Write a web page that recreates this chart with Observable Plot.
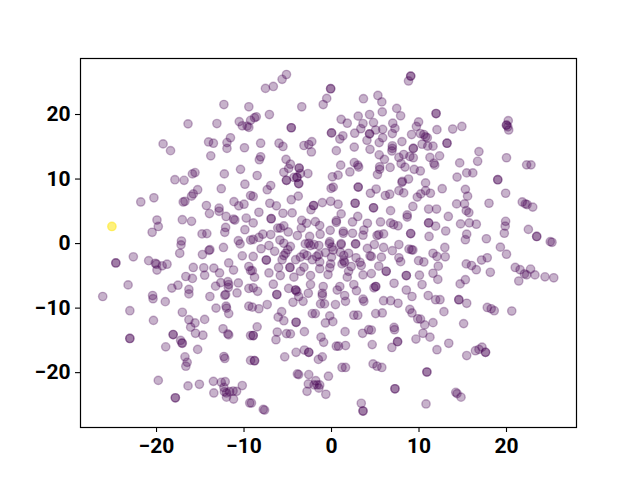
<!DOCTYPE html>
<html><head><meta charset="utf-8">
<script src="https://cdn.jsdelivr.net/npm/d3@7"></script>
<script src="https://cdn.jsdelivr.net/npm/@observablehq/plot@0.6"></script>
<style>html,body{margin:0;padding:0;background:#fff}svg{display:block}</style>
</head><body><div id="chart"></div>
<script>
const xTicks = [-20,-10,0,10,20];
const yTicks = [-20,-10,0,10,20];
const highlighted = [[-25.1,2.65]];
const points = [
[-12.3,21.55],[-9.45,21.2],[-16.4,18.55],[-13.1,18.6],[-10.55,18.9],[-10.2,18.25],[-9.65,18.2],[-9.45,18],[-9.25,19.1],[-11.55,16.4],[-11.95,15.65],[-11.95,14.75],[-9.95,14.85],[-14.05,15.75],[-13.5,15.55],[-13.8,13.6],[-19.25,15.45],[-18.4,14.4],[-15.6,11],[-15.9,10.8],[-12.25,10.8],[-10.4,11.5],[-17.9,9.9],[-16.85,9.8],[-9.9,9.2],
[-12.6,8.5],[-15.3,8.35],[-15.8,7.7],[-16,7.35],[-16.75,6.55],[-16.95,6.45],[-20.3,7.1],[-21.8,6.45],[-14.3,5.9],[-12.85,5.5],[-12.85,5],[-13.95,4.65],[-11.15,6.5],[-10.6,5.85],[-10,6.1],[-12.05,4.2],[-11.2,3.8],[-11.05,3.65],[-9.75,3.95],[-19.95,3.65],[-19.8,2.65],[-20.5,1.75],[-17.05,3.7],[-16,3.45],[-12.1,2.5],[-12.2,1.75],[-9.9,2.15],[-14.8,1.5],[-14.25,1.55],[-17.15,0.4],[-17.2,-0.2],[-17.35,-1.5],[-10.65,0.45],[-10.45,-0.05],[-9.25,0.55],[-13.9,-0.95],[-14,-1.05],[-14.75,-1.7],[-12.35,-0.6],[-10.2,-1.9],[-22.65,-2.05],[-20.9,-2.65],[-20.15,-3.05],[-20,-3.2],[-19.35,-3.45],[-18.8,-3.2],[-19.95,-4.1],[-24.65,-3],[-24.65,-3],[-15.8,-3.7],[-14.6,-3.75],[-13.45,-3.8],[-12.8,-4.55],[-11.75,-3],[-11.2,-4.1],[-14.5,-4.9],[-16.65,-5.1],[-15.9,-5.4],[-23.25,-6.4],[-17.55,-6.45],[-18.25,-6.9],[-16.3,-7.1],[-16.3,-7.8],[-20.45,-8.05],[-20.4,-8.55],[-19,-9],[-26.15,-8.2],[-13.9,-8.2],[-13.25,-6.6],[-12.65,-6.05],[-11.85,-5.9],[-11.75,-6.35],[-11.8,-6.8],[-10.65,-6.1],[-12.1,-7.9],[-12.2,-8],[-10.8,-7.65],[-12.05,-9.7],[-9.45,-3.55],[-9.25,-4.2],[-9.45,-6.95],[-9.25,7.45],
[-23.05,-10.4],[-20.35,-11.9],[-17.05,-10.65],[-16.3,-11.8],[-15.6,-12.3],[-14.5,-11.75],[-16.1,-12.95],[-15.55,-13.9],[-14.7,-14.2],[-18.1,-14.1],[-18.1,-14.1],[-23.05,-14.7],[-23.05,-14.7],[-17.25,-15],[-17.1,-15.4],[-17.05,-15.45],[-18.95,-16],[-15.3,-16.4],[-13.2,-10],[-12,-10],[-11.75,-10.85],[-9.45,-9.7],[-12.4,-13.2],[-11.85,-14],[-11.75,-14.15],[-9.25,-14.25],[-16.75,-17.55],[-16.5,-18.4],[-16.65,-19],[-12.3,-17.5],[-12.2,-17.8],[-9.25,-18.1],[-19.8,-21.2],[-16.4,-22.05],[-15.1,-21.8],[-13.5,-21.35],[-12.6,-21.5],[-12.15,-21.4],[-12.3,-22.3],[-10.2,-22],[-13.45,-23.15],[-12.25,-22.95],[-12,-23.15],[-11.65,-22.95],[-11.25,-22.85],[-10.85,-22.9],[-12,-23.8],[-11.2,-24.1],[-17.85,-23.9],[-17.85,-23.9],[-9.35,-24.7],
[-5.15,26.2],[-5.65,25.45],[-6.65,24.35],[-7.55,24.05],[-0.1,24],[-0.1,24],[-0.55,22.5],[-0.95,21.55],[-3.4,21.2],[3.65,22.45],[5.3,22.95],[5.75,21.95],[5.8,20.4],[7.45,20.95],[7.9,19.8],[9.05,25.95],[9.05,25.95],[8.8,25.2],[-7.1,20],[-8.6,19.65],[-8.8,19.5],[-4.6,17.95],[-4.6,17.95],[1.1,19.25],[1.8,18.65],[3.05,19.75],[4.35,20],[4.8,18.75],[3.6,18.6],[3.35,17.8],[4.35,17],[4.35,17],[2.65,17.1],[5.05,17.6],[5.85,17.7],[4.05,16],[5.85,16.4],[5.45,15.65],[7.25,17.85],[7,18.65],[6.95,17.05],[8.05,15.8],[9.15,16.9],[9.7,18.15],[9.95,18.85],[10.15,17.05],[0,17.15],[0,17.15],[1.3,16.7],[0.95,16.2],[0.55,14.4],[2.6,14.95],[4.4,14.6],[-8.1,15.55],[-6,15.55],[-5.55,15.05],[-2.25,15.8],[-3.15,15.2],[-2.6,15.35],[-2.3,14.2],[-8.1,13.45],[-8.25,13],[-5.2,13.05],[-4.7,12.3],[-4.9,11.65],[-5.45,11.05],[-3.7,11.7],[-3.7,11.7],[-3.55,10.85],[-3.95,10.25],[-3.95,10.25],[-4.3,10.25],[-2.7,10.85],[-8.5,10.55],[-5.15,9.8],[-5.15,9.8],[-3.75,9.3],[-3.75,9.3],[-6.95,9],[1.05,12.15],[0.1,10.35],[0.75,10.6],[2.1,11.1],[2.6,12.55],[3,12.15],[3.1,11.85],[5.45,13.75],[6.05,13.05],[6.7,11.8],[5.5,11.9],[5.5,11.5],[5.25,10.7],[6.95,15.15],[6.95,14.75],[6.9,14.35],[7.7,13.35],[8.25,13.8],[8.95,13.5],[9.35,13.3],[9.35,14.75],[9.35,14.75],[7.95,12.4],[8.4,11.85],[9.45,11.5],[10.15,11.25],[8.8,10],[8.1,9.65],
[11.95,20.15],[11.95,20.15],[12.05,17.65],[13.85,17.75],[14.9,18.15],[10.55,16.9],[10.75,16.55],[10.95,16.4],[10.35,15.4],[11,15.1],[11.6,15.1],[13.2,15.55],[13.2,15.55],[16.85,14.25],[16.7,12.75],[14.65,12.5],[12.35,13.6],[11.25,13.35],[11.7,12.45],[11.8,12.15],[15.45,10.95],[16.15,10.95],[14.35,10.3],[19,9.9],[19,9.9],[10.75,9.4],[20,13.3],[22.3,12.2],[22.8,12.2],[20.2,19.05],[20,18.35],[20,18.35],[20.15,18.1],[20.25,17.6],
[-7.35,8.35],[-8.95,7.3],[-0.05,8.55],[0.2,8.75],[3.05,8.75],[3.05,8.75],[4.45,7.8],[5.1,8.45],[6.15,7.45],[6.65,7.65],[7.7,8.2],[8.25,7.85],[8.05,9.5],[9.8,7.2],[-3.8,7.35],[-4.6,6.8],[-7.05,6.25],[-6.3,5.85],[-2.05,5.9],[-2.05,5.9],[-2.35,5.25],[-1.05,6.35],[-0.1,6.55],[0.75,6.1],[2.7,6.25],[2.7,6.25],[4.8,5.55],[4.8,5.55],[6.75,5.1],[9.3,5.75],[8.65,4.45],[8.65,4.1],[-8.3,4.85],[-5.55,4.7],[-4.5,4.75],[-6.9,3.85],[-6.9,3.85],[-8.95,3.2],[1.1,4.6],[0.55,3.55],[0.55,3.3],[3,4.2],[2.4,3.35],[4.1,3.15],[5.6,3.35],[6.75,3.2],[7.1,2.95],[7.6,2.75],[-3.4,3.6],[-2.85,3.15],[-1.85,3.4],[-1.35,2.8],[3.7,2.1],[3.6,1.3],[-0.15,2.05],[1.35,1.9],[1.35,1.6],[2.4,1.6],[-1.3,1.45],[-3.45,2.4],[-3.9,1.25],[-4.95,1.8],[-5.45,2.75],[-6.15,2.4],[-5.85,2.4],[-6.95,1.4],[-7.85,1.45],[-8.3,0.95],[-8.95,0.65],[5.2,1.25],[5.4,1.4],[5.95,1.5],[9.05,1.55],[9.05,1.55],[4.9,-0.15],[7.7,-0.15],[5.95,-0.6],[6.95,-1.1],[8.85,-0.85],[9.15,-0.95],[9.3,-1],[4.1,-0.75],[2.75,-0.05],[2.75,-0.05],[1.1,0],[1.1,-0.15],[-0.2,0.3],[-0.25,0],[0.05,-0.55],[0.2,-1],[-1.45,-0.3],[-2,-0.15],[-2.6,0.05],[-2.4,-0.3],[-2.5,1.1],[-3,-0.05],[-5.9,0.55],[-5.45,0.05],[-7.15,-0.3],[-8.05,-0.8],[-6.5,-1.2],[-4.7,-0.45],[-5,-0.95],[-5.25,-1.5],[-8.95,-2],[-7.45,-2.55],[-7.45,-2.55],[-5.45,-1.85],[-5.65,-2.5],[-4.1,-2.5],[-3.15,-1.6],[-3.55,-2.1],[-2.8,-1.85],[-2.2,-2.5],[-1.7,-2],[-1.45,-1.7],[-0.7,-1.4],[0,-2.1],[-0.1,-3.15],[-0.2,-3.75],[-1.35,-2.85],[-1.35,-3.9],[-0.4,-4.8],[1,-1.35],[1.95,-1.5],[1.4,-1.85],[1.4,-2.65],[1.5,-2.9],[1.2,-3.15],[2.8,-2.2],[3.25,-2.9],[3.4,-3.4],[2.25,-3.55],[1.95,-4.3],[1.8,-5.2],[4.55,-2],[4.4,-1.9],[5.7,-2.1],[4.55,-4.65],[3.6,-4.85],[5.4,-3.5],[6.25,-4.3],[6.25,-4.3],[7.7,-2.2],[7.9,-2.8],[8.55,-4.95],[8.55,-4.95],[10.05,-4.9],[9.95,-2.65],[7.15,-6.15],[5.05,-6.65],[5.05,-6.65],[4.85,-6.85],[8.55,-7.2],[9.2,-8.2],[5.95,-8.85],[6.75,-8.85],[7.6,-9.25],[3.6,-8.6],[3.7,-8.95],[2.85,-7.3],[2.55,-6.35],[0.95,-6.65],[0.65,-7.2],[-2.4,-6.35],[-2.65,-7.7],[-0.95,-6.65],[-1.05,-7.7],[-1.05,-8.05],[-1.25,-9.35],[-0.8,-9.35],[1.5,-8.05],[1.6,-8.95],[0.45,-9.45],[-4.9,-6.95],[-4.1,-7.2],[-4.1,-7.2],[-3.95,-7.45],[-3.75,-8.2],[-3.25,-8.95],[-4.4,-9.1],[-6.25,-7.9],[-6.25,-7.9],[-6.65,-6.3],[-7.35,-9.45],[-8.45,-7.4],[-8.95,-6.85],[-8.8,-5.2],[-9.05,-4.2],[-4.75,-3.7],[-4.75,-3.7],[-5.85,-4.95],[-7.15,-4.55],[-6.05,-3.7],[-4.3,-5.2],[-3.55,-4.3],[-3.15,-3.65],[-2.4,-4.95],
[12.65,8.5],[15.3,8.4],[15.55,7.35],[10.75,8.2],[10.2,7.7],[11.3,7.8],[19.9,7.8],[14.3,6.15],[15.2,6.15],[18,6.25],[21.8,6.45],[22.15,6.15],[22.35,6.05],[23,5.65],[11.1,5.35],[12,5.35],[15.4,5.1],[15.7,4.8],[13.35,4.2],[11.1,3.2],[11.1,3.2],[11.9,2.7],[13.05,1.95],[14.75,3.05],[15.75,3.2],[16.55,3],[19.9,3.45],[19.85,2.7],[19.75,1.6],[22.5,2.2],[23.45,1.1],[23.45,1.1],[25,0.3],[25.2,0.2],[11.15,1.1],[15.45,1.45],[15.3,0.6],[17.7,0.75],[12.95,-0.6],[11.6,-1.5],[12.05,-2],[13,-2.05],[10.55,-2.85],[12.2,-3.5],[11.6,-4.6],[12.15,-5.55],[19.3,-0.55],[20,-1.65],[17.8,-2.2],[17.15,-2.55],[15.4,-3.15],[16,-3.4],[16.55,-4.05],[18.15,-4.45],[21,-3.7],[21.55,-4.05],[22.05,-4.7],[22.3,-4.85],[22.75,-3.95],[23.25,-4.85],[24.4,-5.15],[25.4,-5.3],[21.4,-5.8],[15.3,-5.6],[14.7,-6.25],[10.35,-6.35],[11.05,-8.05],[11.9,-8.7],[12.4,-8.7],[14.55,-8.7],[14.55,-8.7],[15.45,-9.25],[17.8,-9.9],
[12.85,-10.55],[18.25,-10.1],[18.6,-10.4],[20.6,-10.45],[10.17,-11.7],[10.65,-12.6],[11.6,-12.25],[15.1,-12.4],[10.45,-13.9],[11.25,-14.5],[13.4,-15.45],[12.05,-16.45],[15.45,-17.35],[16.45,-16.6],[16.85,-16.4],[17.2,-16.05],[17.6,-16.85],[17.6,-16.85],[10.9,-19.9],[10.9,-19.9],[14.2,-23.05],[14.35,-23.25],[14.8,-23.8],[10.8,-24.85],
[-8.3,-10.1],[-9.05,-9.85],[-5.7,-10.55],[-6.1,-11.4],[-5.45,-11.95],[-4.05,-12.2],[-4.05,-12.2],[-2.2,-10.85],[-1.85,-10.85],[-0.2,-11.2],[-0.7,-12.3],[0.15,-12.1],[2.55,-11.1],[3,-11.1],[5.05,-10.85],[5.8,-10.75],[8.95,-10.2],[9.2,-10.75],[9.85,-11.65],[-8.5,-12.9],[-6.2,-13.7],[-5.15,-13.95],[-4.7,-14],[-3.1,-13.65],[-6.35,-14.9],[-8.95,-14.25],[-8.95,-14.25],[-1.2,-14.5],[-0.9,-15.3],[1.55,-13.65],[3.55,-13.9],[4.25,-13.35],[4.55,-13.4],[7.15,-13],[7.2,-13.35],[7.55,-15.2],[7.55,-15.2],[6.9,-16.1],[9.65,-14.8],[4.65,-15.65],[0.55,-15.9],[0.8,-15.9],[1.6,-15.8],[-5.35,-17.55],[-4.05,-16.85],[-3.1,-16.5],[-2.6,-16.85],[-2.6,-16.85],[-1.5,-17.95],[-1.05,-17.55],[-8.8,-18.15],[-8.8,-18.15],[1.2,-19.2],[1.6,-19.2],[4.75,-18.65],[5.2,-19],[5.75,-19.2],[-3.9,-20.2],[-3.75,-20.3],[-2.6,-20.3],[-0.35,-20.55],[-1.8,-21.25],[-2.65,-21.75],[-2,-21.9],[-1.65,-21.9],[-1.35,-21.9],[-1.45,-22.4],[-2.8,-22.9],[-0.65,-23.35],[7.25,-22.5],[7.25,-22.5],[-9.15,-24.7],[-7.8,-25.7],[-7.65,-25.8],[3.4,-24.75],[3.6,-25.95],[3.6,-25.95]
];
const dotStyle = {r:4.17, strokeWidth:1.39, fillOpacity:0.3, strokeOpacity:0.3};
const axisStyle = {tickSize:5, tickPadding:6, stroke:"#000", strokeOpacity:1, strokeWidth:1.1, fontSize:21, fontWeight:700, fill:"#000", tickFormat:d=>String(d).replace("-","\u2212"), label:null};
const chart = Plot.plot({
  width:640, height:480, marginLeft:80, marginRight:64, marginTop:58, marginBottom:53,
  style:{fontFamily:"Roboto", background:"#fff", overflow:"visible"},
  x:{domain:[-28.69,28], nice:false},
  y:{domain:[-28.5,28.68], nice:false},
  marks:[
    Plot.dot(points,{x:d=>d[0],y:d=>d[1],fill:"#440154",stroke:"#440154",...dotStyle}),
    Plot.dot(highlighted,{x:d=>d[0],y:d=>d[1],fill:"#fde725",stroke:"#fde725",...dotStyle,fillOpacity:0.6,strokeOpacity:0.6}),
    Plot.frame({stroke:"#000",strokeWidth:1.2,strokeOpacity:1}),
    Plot.axisX({ticks:xTicks,...axisStyle}),
    Plot.axisY({ticks:yTicks,...axisStyle,tickPadding:5})
  ]
});
document.getElementById("chart").appendChild(chart);
</script>
</body></html>
